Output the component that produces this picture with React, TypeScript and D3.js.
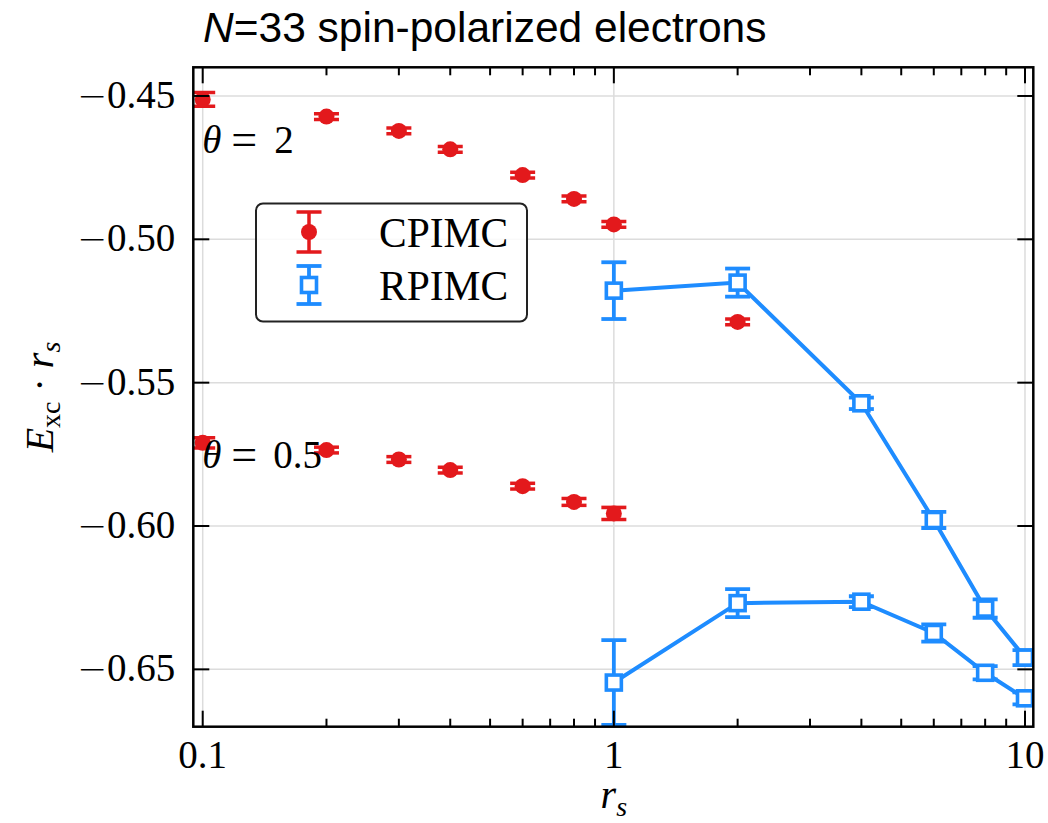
import React from 'react';
import * as d3 from 'd3';

const rsCPIMC2 = [0.1, 0.2, 0.3, 0.4, 0.6, 0.8, 1, 2];
const cpimcTheta2 = [-0.4512, -0.4572, -0.4622, -0.4686, -0.4776, -0.4859, -0.4948, -0.5288];
const cpimcTheta2Err = [0.0024, 0.001, 0.001, 0.001, 0.001, 0.001, 0.001, 0.001];
const rsCPIMC05 = [0.1, 0.2, 0.3, 0.4, 0.6, 0.8, 1];
const cpimcTheta05 = [-0.571, -0.5735, -0.5768, -0.5805, -0.5861, -0.5916, -0.5956];
const cpimcTheta05Err = [0.0018, 0.001, 0.001, 0.001, 0.001, 0.0012, 0.0021];
const rsRPIMC = [1, 2, 4, 6, 8, 10];
const rpimcTheta2 = [-0.5179, -0.5151, -0.5572, -0.5979, -0.6288, -0.6459];
const rpimcTheta2Err = [0.0099, 0.0049, 0.002, 0.0028, 0.0032, 0.0026];
const rpimcTheta05 = [-0.6546, -0.6269, -0.6264, -0.6373, -0.6512, -0.6601];
const rpimcTheta05Err = [0.0148, 0.0049, 0.0019, 0.003, 0.0023, 0.0021];
const yTicks = [-0.45, -0.5, -0.55, -0.6, -0.65];
const yTickLabels = ['0.45', '0.50', '0.55', '0.60', '0.65'];
const xTicks = [0.1, 1, 10];
const xTickLabels = ['0.1', '1', '10'];
const xMinorTicks = [0.2, 0.3, 0.4, 0.5, 0.6, 0.7, 0.8, 0.9, 2, 3, 4, 5, 6, 7, 8, 9];
const seriesNames = ['CPIMC', 'RPIMC'];

const RED = '#e3191c';
const BLUE = '#1e8cff';
const SERIF = '"Liberation Serif", "DejaVu Serif", serif';
const SANS = '"Liberation Sans", Arial, sans-serif';

const W = 1048, H = 823;
const L = 193.3, R = 1033.3, T = 67.3, B = 726.7;

export default function App() {
  const x = d3.scaleLog().domain([0.09487, 10.476]).range([L, R]);
  const y = d3.scaleLinear().domain([-0.67, -0.44]).range([B, T]);
  const line = d3.line<[number, number]>().x(d => x(d[0])).y(d => y(d[1]));
  const capW = 12.5;

  const errBar = (cx: number, cy0: number, cy1: number, color: string, key: string, sw = 3.5) => (
    <g key={key} stroke={color} strokeWidth={sw} fill="none">
      <line x1={cx} x2={cx} y1={cy0} y2={cy1} />
      <line x1={cx - capW} x2={cx + capW} y1={cy0} y2={cy0} />
      <line x1={cx - capW} x2={cx + capW} y1={cy1} y2={cy1} />
    </g>
  );

  const redSeries = (xs: number[], ys: number[], es: number[], k: string) =>
    xs.map((v, i) => (
      <g key={k + i}>
        {errBar(x(v), y(ys[i] + es[i]), y(ys[i] - es[i]), RED, 'e')}
        <circle cx={x(v)} cy={y(ys[i])} r={8} fill={RED} />
      </g>
    ));

  const blueSeries = (xs: number[], ys: number[], es: number[], k: string) => (
    <g key={k}>
      <path d={line(xs.map((v, i) => [v, ys[i]]) as [number, number][]) || ''} fill="none" stroke={BLUE} strokeWidth={4} />
      {xs.map((v, i) => (
        <g key={i}>
          {errBar(x(v), y(ys[i] + es[i]), y(ys[i] - es[i]), BLUE, 'e', 3.8)}
          <rect x={x(v) - 7.5} y={y(ys[i]) - 7.5} width={15} height={15} fill="white" stroke={BLUE} strokeWidth={3.6} />
        </g>
      ))}
    </g>
  );

  return (
    <svg width={W} height={H} style={{ position: 'absolute', left: 0, top: 0, background: 'white' }}>
      <defs>
        <clipPath id="plotClip">
          <rect x={L} y={T} width={R - L} height={B - T} />
        </clipPath>
      </defs>
      <rect x={0} y={0} width={W} height={H} fill="white" />
      {/* title */}
      <text x={203} y={42} fontFamily={SANS} fontSize={42.5} fill="#000">
        <tspan fontStyle="italic">N</tspan>=33 spin-polarized electrons
      </text>
      {/* grid */}
      <g stroke="#dcdcdc" strokeWidth={1.5}>
        {xTicks.map(t => <line key={'gx' + t} x1={x(t)} x2={x(t)} y1={T} y2={B} />)}
        {yTicks.map(t => <line key={'gy' + t} x1={L} x2={R} y1={y(t)} y2={y(t)} />)}
      </g>
      {/* data */}
      <g clipPath="url(#plotClip)">
        {blueSeries(rsRPIMC, rpimcTheta2, rpimcTheta2Err, 'b2')}
        {blueSeries(rsRPIMC, rpimcTheta05, rpimcTheta05Err, 'b05')}
        {redSeries(rsCPIMC2, cpimcTheta2, cpimcTheta2Err, 'r2')}
        {redSeries(rsCPIMC05, cpimcTheta05, cpimcTheta05Err, 'r05')}
      </g>
      {/* theta annotations */}
      <text y={y(-0.4699)} fontFamily={SERIF} fontSize={39} fill="#000">
        <tspan x={L + 9} fontStyle="italic">θ</tspan>
        <tspan x={L + 38} fontSize={46} dy={2}>=</tspan>
        <tspan x={L + 81} dy={-2}>2</tspan>
      </text>
      <text y={y(-0.5799)} fontFamily={SERIF} fontSize={39} fill="#000">
        <tspan x={L + 9} fontStyle="italic">θ</tspan>
        <tspan x={L + 38} fontSize={46} dy={2}>=</tspan>
        <tspan x={L + 80} dy={-2}>0.5</tspan>
      </text>
      {/* spines */}
      <rect x={L} y={T} width={R - L} height={B - T} fill="none" stroke="#000" strokeWidth={2.5} />
      {/* ticks */}
      <g stroke="#000" strokeWidth={2}>
        {xTicks.map(t => (
          <g key={'xt' + t}>
            <line x1={x(t)} x2={x(t)} y1={B} y2={B - 16} />
            <line x1={x(t)} x2={x(t)} y1={T} y2={T + 16} />
          </g>
        ))}
        {xMinorTicks.map(t => (
          <g key={'xm' + t}>
            <line x1={x(t)} x2={x(t)} y1={B} y2={B - 8} />
            <line x1={x(t)} x2={x(t)} y1={T} y2={T + 8} />
          </g>
        ))}
        {yTicks.map(t => (
          <g key={'yt' + t}>
            <line x1={L} x2={L + 16} y1={y(t)} y2={y(t)} />
            <line x1={R} x2={R - 16} y1={y(t)} y2={y(t)} />
          </g>
        ))}
      </g>
      {/* tick labels */}
      <g fontFamily={SERIF} fontSize={39} fill="#000">
        {xTicks.map((t, i) => (
          <text key={'xl' + t} x={x(t)} y={B + 41} textAnchor="middle">{xTickLabels[i]}</text>
        ))}
        {yTicks.map((t, i) => (
          <text key={'yl' + t} x={L - 18} y={y(t) + 12} textAnchor="end">
            <tspan fontFamily='"DejaVu Sans", sans-serif' fontSize={36} fontWeight={300}>{'\u2212'}</tspan>
            <tspan>{yTickLabels[i]}</tspan>
          </text>
        ))}
      </g>
      {/* axis labels */}
      <text x={x(1)} y={808} textAnchor="middle" fontFamily={SERIF} fontSize={40} fill="#000">
        <tspan fontStyle="italic">r</tspan>
        <tspan fontStyle="italic" fontSize={28} dy={8}>s</tspan>
      </text>
      <text transform={`translate(53,${(T + B) / 2}) rotate(-90)`} textAnchor="middle" fontFamily={SERIF} fontSize={40} fill="#000">
        <tspan fontStyle="italic">E</tspan>
        <tspan fontSize={28} dy={7}>xc</tspan>
        <tspan dy={-7}> · </tspan>
        <tspan fontStyle="italic">r</tspan>
        <tspan fontStyle="italic" fontSize={28} dy={7}>s</tspan>
      </text>
      {/* legend */}
      <g>
        <rect x={256} y={203.5} width={271} height={118} rx={7} fill="white" fillOpacity={0.85} stroke="#222" strokeWidth={2} />
        {errBar(309, 212, 252, RED, 'le1')}
        <circle cx={309} cy={232} r={8} fill={RED} />
        {errBar(309, 266, 304, BLUE, 'le2', 3.8)}
        <rect x={301.5} y={277.5} width={15} height={15} fill="white" stroke={BLUE} strokeWidth={3.6} />
        <text x={379} y={246.5} fontFamily={SERIF} fontSize={41.5} fill="#000">{seriesNames[0]}</text>
        <text x={379} y={300} fontFamily={SERIF} fontSize={41.5} fill="#000">{seriesNames[1]}</text>
      </g>
    </svg>
  );
}
